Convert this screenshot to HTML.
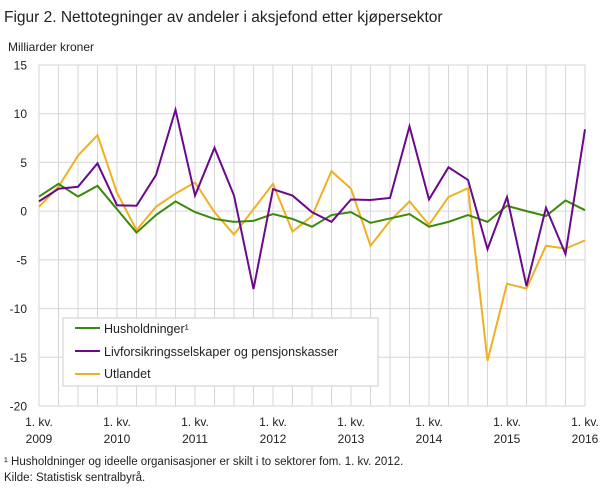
<!DOCTYPE html>
<html><head><meta charset="utf-8"><style>
body{margin:0;background:#fff;font-family:"Liberation Sans",sans-serif;}
svg text{font-family:"Liberation Sans",sans-serif;fill:#222;}
</style></head><body>
<svg width="609" height="489" viewBox="0 0 609 489">
<text x="4" y="22" font-size="15.5">Figur 2. Nettotegninger av andeler i aksjefond etter kjøpersektor</text>
<text x="8" y="51" font-size="12">Milliarder  kroner</text>
<g id="grid"></g>
<g id="series"></g>
<g id="legend">
<rect x="63" y="318" width="315" height="68" fill="#fff" stroke="#ccc"/>
<g><line x1="75" y1="328" x2="100" y2="328" stroke="#3b8a0a" stroke-width="2"/><text x="104" y="333" font-size="12.5">Husholdninger¹</text></g>
<g><line x1="75" y1="351" x2="100" y2="351" stroke="#6a0a8a" stroke-width="2"/><text x="104" y="356" font-size="12.5">Livforsikringsselskaper og pensjonskasser</text></g>
<g><line x1="75" y1="374" x2="100" y2="374" stroke="#f0b020" stroke-width="2"/><text x="104" y="378" font-size="12.5">Utlandet</text></g>
</g>
<text x="4" y="465" font-size="11.5">¹ Husholdninger og ideelle organisasjoner er skilt i to sektorer fom. 1. kv. 2012.</text>
<text x="4" y="481" font-size="11.5">Kilde: Statistisk sentralbyrå.</text>
</svg>
<script>
const quarters = 29;
const yTicks = [15,10,5,0,-5,-10,-15,-20];
const yearLabels = ["2009","2010","2011","2012","2013","2014","2015","2016"];
const husholdninger = [1.5,2.8,1.5,2.6,0.2,-2.2,-0.4,1.0,-0.1,-0.8,-1.1,-1.0,-0.3,-0.8,-1.6,-0.4,-0.1,-1.2,-0.75,-0.3,-1.6,-1.1,-0.4,-1.1,0.55,0.0,-0.5,1.1,0.1];
const livforsikring = [1.0,2.3,2.5,4.9,0.6,0.55,3.7,10.4,1.6,6.5,1.6,-8.0,2.25,1.6,-0.1,-1.1,1.2,1.15,1.35,8.7,1.2,4.5,3.2,-3.9,1.45,-7.7,0.35,-4.4,8.4];
const utlandet = [0.45,2.5,5.7,7.8,1.9,-1.95,0.45,1.8,2.95,-0.1,-2.4,0.2,2.8,-2.1,-0.5,4.1,2.3,-3.55,-1.0,1.0,-1.4,1.45,2.35,-15.35,-7.45,-7.95,-3.55,-3.85,-3.0];
const NS="http://www.w3.org/2000/svg";
const x0=39,x1=585,yTop=65,yBot=406,vMax=15,vMin=-20;
function xs(i){return x0+(x1-x0)*i/(quarters-1);}
function ys(v){return yTop+(vMax-v)/(vMax-vMin)*(yBot-yTop);}
const grid=document.getElementById('grid');
for(let i=0;i<quarters;i++){
  const l=document.createElementNS(NS,'line');
  l.setAttribute('x1',xs(i));l.setAttribute('x2',xs(i));l.setAttribute('y1',yTop);l.setAttribute('y2',yBot);
  l.setAttribute('stroke','#d6d6d6');l.setAttribute('stroke-width','1');
  
  
  grid.appendChild(l);
}
yTicks.forEach(v=>{
  const l=document.createElementNS(NS,'line');
  l.setAttribute('x1',x0);l.setAttribute('x2',x1);l.setAttribute('y1',ys(v));l.setAttribute('y2',ys(v));
  l.setAttribute('stroke','#d6d6d6');l.setAttribute('stroke-width','1');
  
  
  grid.appendChild(l);
  const t=document.createElementNS(NS,'text');
  t.setAttribute('x',27);t.setAttribute('y',ys(v)+4.5);t.setAttribute('text-anchor','end');t.setAttribute('font-size','12');
  t.textContent=String(v);
  
  
  grid.appendChild(t);
});
yearLabels.forEach((yr,k)=>{
  const cx=xs(k*4);
  const a=document.createElementNS(NS,'text');
  a.setAttribute('x',cx);a.setAttribute('y',426);a.setAttribute('text-anchor','middle');a.setAttribute('font-size','12');
  a.textContent='1. kv.';
  
  
  grid.appendChild(a);
  const b=document.createElementNS(NS,'text');
  b.setAttribute('x',cx);b.setAttribute('y',443);b.setAttribute('text-anchor','middle');b.setAttribute('font-size','12');
  b.textContent=yr;
  
  
  grid.appendChild(b);
});
const ser=document.getElementById('series');
[[utlandet,'#f0b020','line-utlandet'],[husholdninger,'#3b8a0a','line-husholdninger'],[livforsikring,'#6a0a8a','line-livforsikring']].forEach(([d,c,n])=>{
  const p=document.createElementNS(NS,'polyline');
  p.setAttribute('points',d.map((v,i)=>xs(i)+','+ys(v)).join(' '));
  p.setAttribute('fill','none');p.setAttribute('stroke',c);p.setAttribute('stroke-width','2');p.setAttribute('stroke-linejoin','miter');
  
  
  ser.appendChild(p);
});
</script>
</body></html>
